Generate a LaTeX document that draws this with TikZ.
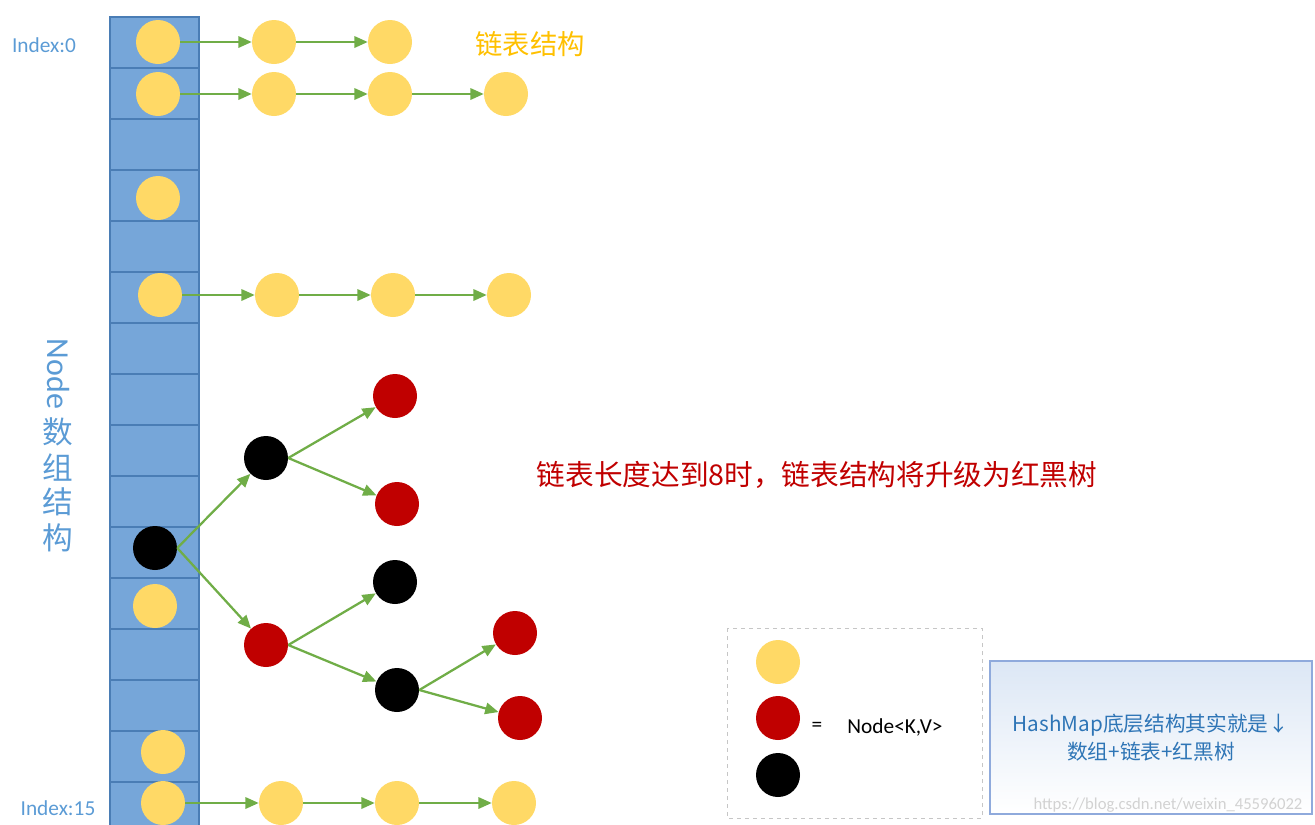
\documentclass[tikz,border=0pt]{standalone}
\usepackage{fontspec}
\setmainfont{Carlito}
\newfontfamily\cjk{Noto Sans CJK SC}
\usetikzlibrary{arrows.meta}
\definecolor{arrfill}{HTML}{76A6D9}
\definecolor{arrline}{HTML}{4A7DB5}
\definecolor{yelc}{HTML}{FFD966}
\definecolor{redc}{HTML}{C00000}
\definecolor{grn}{HTML}{70AD47}
\definecolor{bluetxt}{HTML}{5B9BD5}
\definecolor{orangetxt}{HTML}{FFC000}
\definecolor{boxtxt}{HTML}{2E75B6}
\definecolor{boxline}{HTML}{8FAADC}
\definecolor{boxshade}{HTML}{DCE7F5}
\begin{document}
\begin{tikzpicture}[x=0.75pt,y=-0.75pt,
  dot/.style={circle,minimum size=33pt,inner sep=0pt,draw=none},
  yel/.style={dot,fill=yelc},
  red/.style={dot,fill=redc},
  blk/.style={dot,fill=black},
  arr/.style={draw=grn,line width=1.7pt,-{Triangle[length=10pt,width=8.5pt]}},
  idx/.style={text=bluetxt,font=\fontsize{16}{19}\selectfont,inner sep=0pt},
  vlbl/.style={text=bluetxt,font=\cjk\fontsize{23}{26}\selectfont,inner sep=0pt}
]
\useasboundingbox (0,0) rectangle (1315,825);
% array column
\fill[arrfill] (110,17) rectangle (199,825);
\foreach \k in {0,...,15}{
  \draw[arrline,line width=1pt] (110,17+51*\k) -- (199,17+51*\k);
}
\draw[arrline,line width=1pt] (110,825) -- (110,17) -- (199,17) -- (199,825);

% labels
\node[idx] (i0) at (44,45) {Index:0};
\node[idx] (i15) at (58,808) {Index:15};
\node[text=bluetxt,font=\fontsize{24}{28}\selectfont,inner sep=0pt,rotate=-90] (vn) at (58,374) {Node};
\node[vlbl] (v1) at (58,432) {数};
\node[vlbl] (v2) at (58,468) {组};
\node[vlbl] (v3) at (58,502) {结};
\node[vlbl] (v4) at (58,538) {构};
\node[text=orangetxt,font=\cjk\fontsize{20.5}{24}\selectfont,inner sep=0pt] (lt) at (530,44) {链表结构};
\node[text=redc,font=\cjk\fontsize{21.5}{26}\selectfont,inner sep=0pt] (rt) at (817,475) {链表长度达到8时，链表结构将升级为红黑树};

% row 0
\node[yel] (a0) at (158,42) {};
\node[yel] (a1) at (274,42) {};
\node[yel] (a2) at (390,42) {};
\draw[arr] (a0) -- (a1); \draw[arr] (a1) -- (a2);
% row 1
\node[yel] (b0) at (158,94) {};
\node[yel] (b1) at (274,94) {};
\node[yel] (b2) at (390,94) {};
\node[yel] (b3) at (506,94) {};
\draw[arr] (b0) -- (b1); \draw[arr] (b1) -- (b2); \draw[arr] (b2) -- (b3);
% row 3
\node[yel] (c0) at (158,198) {};
% row 5
\node[yel] (d0) at (160,295) {};
\node[yel] (d1) at (277,295) {};
\node[yel] (d2) at (393,295) {};
\node[yel] (d3) at (509,295) {};
\draw[arr] (d0) -- (d1); \draw[arr] (d1) -- (d2); \draw[arr] (d2) -- (d3);
% tree
\node[yel] (y11) at (155,606) {};
\node[blk] (t0) at (155,548) {};
\node[blk] (t1) at (266,458) {};
\node[red] (t2) at (395,396) {};
\node[red] (t3) at (397,504) {};
\node[red] (t4) at (266,645) {};
\node[blk] (t5) at (395,582) {};
\node[blk] (t6) at (397,690) {};
\node[red] (t7) at (515,633) {};
\node[red] (t8) at (520,718) {};
\draw[arr] (t0.east) -- (t1); \draw[arr] (t0.east) -- (t4);
\draw[arr] (t1.east) -- (t2); \draw[arr] (t1.east) -- (t3);
\draw[arr] (t4.east) -- (t5); \draw[arr] (t4.east) -- (t6);
\draw[arr] (t6.east) -- (t7); \draw[arr] (t6.east) -- (t8);
% row 14, 15
\node[yel] (e0) at (163,752) {};
\node[yel] (f0) at (163,803) {};
\node[yel] (f1) at (281,803) {};
\node[yel] (f2) at (397,803) {};
\node[yel] (f3) at (514,803) {};
\draw[arr] (f0) -- (f1); \draw[arr] (f1) -- (f2); \draw[arr] (f2) -- (f3);

% legend
\draw[gray!45,dashed,line width=0.6pt] (727,628) rectangle (982,818);
\node[yel] (l1) at (778,662) {};
\node[red] (l2) at (778,718) {};
\node[blk] (l3) at (778,775) {};
\node[font=\fontsize{16}{19}\selectfont,inner sep=0pt] (leq) at (817,727) {=};
\node[font=\fontsize{16}{19}\selectfont,inner sep=0pt] (lnode) at (895,727) {Node<K,V>};

% summary box
\shade[top color=boxshade,bottom color=white] (990,661) rectangle (1312,814);
\draw[boxline,line width=0.8pt] (990,661) rectangle (1312,814);
\node[text=boxtxt,font=\cjk\fontsize{15.5}{21}\selectfont,align=center,inner sep=0pt] (sum) at (1151,738) {HashMap底层结构其实就是↓\\数组+链表+红黑树};
\node[text=gray!35,font=\fontsize{12.5}{14}\selectfont,inner sep=0pt] (wm) at (1168,805) {https://blog.csdn.net/weixin\_45596022};
\end{tikzpicture}
\end{document}
